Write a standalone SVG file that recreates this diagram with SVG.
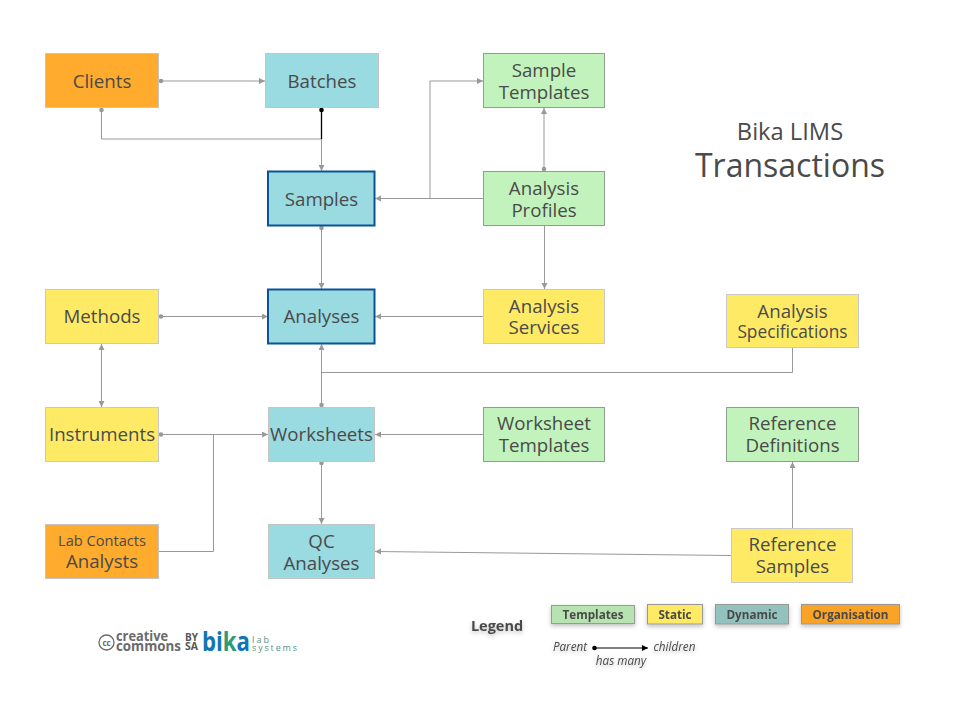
<svg xmlns="http://www.w3.org/2000/svg" width="960" height="720" viewBox="0 0 960 720">
<style>
text{font-family:"Open Sans","Noto Sans","DejaVu Sans",sans-serif;fill:#4a4a4a;text-anchor:middle}
.n{stroke:#c4c4c4;stroke-width:1}
.o{fill:#ffab2e}.b{fill:#9adae1}.g{fill:#c2f3bd;stroke:#8f9f8d}.y{fill:#ffea66;stroke:#c9c9c9}
.k{stroke:#0b5394;stroke-width:2}
.t{font-size:18.7px}
.c path{fill:none;stroke:#999;stroke-width:1}
.lg rect{stroke:#999;stroke-width:1}
.lg text{font-size:11.7px;font-weight:700}
.l{text-anchor:start}
</style>
<defs>
<marker id="a" markerUnits="userSpaceOnUse" markerWidth="8" markerHeight="8" refX="6" refY="3" orient="auto"><path d="M0 0L6 3L0 6Z" fill="#999"/></marker>
<marker id="r" markerUnits="userSpaceOnUse" markerWidth="8" markerHeight="8" refX="6" refY="3" orient="auto-start-reverse"><path d="M0 0L6 3L0 6Z" fill="#999"/></marker>
<marker id="d" markerUnits="userSpaceOnUse" markerWidth="6" markerHeight="6" refX="3" refY="3"><circle cx="3" cy="3" r="2.300" fill="#999"/></marker>
<marker id="dk" markerUnits="userSpaceOnUse" markerWidth="6" markerHeight="6" refX="3" refY="3"><circle cx="3" cy="3" r="2.300" fill="#000"/></marker>
<marker id="ak" markerUnits="userSpaceOnUse" markerWidth="8" markerHeight="8" refX="6" refY="3" orient="auto"><path d="M0 0L6 3L0 6Z" fill="#000"/></marker>
<filter id="s" x="-20%" y="-40%" width="140%" height="200%"><feDropShadow dx="0" dy="2" stdDeviation="2" flood-color="#000" flood-opacity=".25"/></filter>
</defs>
<g id="connectors" class="c">
<path d="M161 81H265" marker-start="url(#d)" marker-end="url(#a)"/>
<path d="M321.500 139H101.500V110" marker-end="url(#d)"/>
<path d="M321.500 139V171" marker-end="url(#a)"/>
<path d="M321.500 110V139" style="stroke:#000;stroke-width:1.300" marker-start="url(#dk)"/>
<path d="M483 198.500H375" marker-end="url(#a)"/>
<path d="M430 198.500V81H483" marker-end="url(#a)"/>
<path d="M544 169V108" marker-start="url(#d)" marker-end="url(#a)"/>
<path d="M544.500 226V289" marker-end="url(#a)"/>
<path d="M321.500 228V289" marker-start="url(#d)" marker-end="url(#a)"/>
<path d="M161 316.500H268" marker-start="url(#d)" marker-end="url(#a)"/>
<path d="M483 316.500H375" marker-end="url(#a)"/>
<path d="M101.500 344V407" marker-start="url(#r)" marker-end="url(#a)"/>
<path d="M321.500 405V344" marker-start="url(#d)" marker-end="url(#a)"/>
<path d="M792.500 348V372.500H321.500"/>
<path d="M161 434.500H268" marker-start="url(#d)" marker-end="url(#a)"/>
<path d="M159 551.500H213.500V434.500"/>
<path d="M483 434.500H375" marker-end="url(#a)"/>
<path d="M321.500 463V524" marker-start="url(#d)" marker-end="url(#a)"/>
<path d="M731 555.500L375 551.500" marker-end="url(#a)"/>
<path d="M792.500 528V462" marker-end="url(#a)"/>
</g>
<g id="clients"><rect class="n o" x="45.500" y="53.500" width="113" height="54"/><text class="t" x="102" y="87.500">Clients</text></g>
<g id="batches"><rect class="n b" x="265.500" y="53.500" width="113" height="54"/><text class="t" x="322" y="87.500">Batches</text></g>
<g id="sample-templates"><rect class="n g" x="483.500" y="53.500" width="121" height="54"/><text class="t" x="544" y="77">Sample</text><text class="t" x="544" y="99">Templates</text></g>
<g id="samples"><rect class="n b k" x="268" y="171.500" width="106.500" height="54"/><text class="t" x="321.500" y="205.500">Samples</text></g>
<g id="analysis-profiles"><rect class="n g" x="483.500" y="171.500" width="121" height="54"/><text class="t" x="544" y="195">Analysis</text><text class="t" x="544" y="217">Profiles</text></g>
<g id="methods"><rect class="n y" x="45.500" y="289.500" width="113" height="54"/><text class="t" x="102" y="323">Methods</text></g>
<g id="analyses"><rect class="n b k" x="268" y="289.500" width="106.500" height="54"/><text class="t" x="321.500" y="323">Analyses</text></g>
<g id="analysis-services"><rect class="n y" x="483.500" y="289.500" width="121" height="54"/><text class="t" x="544" y="313">Analysis</text><text class="t" x="544" y="334">Services</text></g>
<g id="analysis-specifications"><rect class="n y" x="726.500" y="294.500" width="132" height="53"/><text class="t" x="792.500" y="318">Analysis</text><text x="792.500" y="338" font-size="17.300px">Specifications</text></g>
<g id="instruments"><rect class="n y" x="45.500" y="407.500" width="113" height="54"/><text class="t" x="102" y="441">Instruments</text></g>
<g id="worksheets"><rect class="n b" x="268.500" y="407.500" width="106" height="54"/><text class="t" x="321.500" y="441">Worksheets</text></g>
<g id="worksheet-templates"><rect class="n g" x="483.500" y="407.500" width="121" height="54"/><text class="t" x="544" y="430">Worksheet</text><text class="t" x="544" y="452">Templates</text></g>
<g id="reference-definitions"><rect class="n g" x="726.500" y="407.500" width="132" height="54"/><text class="t" x="792.500" y="430">Reference</text><text class="t" x="792.500" y="452">Definitions</text></g>
<g id="analysts"><rect class="n o" x="45.500" y="524.500" width="113" height="54"/><text x="102" y="546" font-size="14.600px">Lab Contacts</text><text class="t" x="102" y="568">Analysts</text></g>
<g id="qc-analyses"><rect class="n b" x="268.500" y="524.500" width="106" height="54"/><text class="t" x="321.500" y="548">QC</text><text class="t" x="321.500" y="570">Analyses</text></g>
<g id="reference-samples"><rect class="n y" x="731.500" y="528.500" width="121" height="54"/><text class="t" x="792.500" y="551">Reference</text><text class="t" x="792.500" y="573">Samples</text></g>
<g id="title"><text x="790" y="140" font-size="23.700px">Bika LIMS</text><text x="790" y="177" font-size="32px">Transactions</text></g>
<g id="legend" class="lg" filter="url(#s)">
<text x="497" y="631" style="font-size:14.500px">Legend</text>
<g id="legend-templates"><rect x="551.500" y="605.500" width="83" height="18" fill="#b6e3af"/><text x="593" y="619">Templates</text></g>
<g id="legend-static"><rect x="647.500" y="604.500" width="55" height="19.500" fill="#ffea66"/><text x="675" y="619">Static</text></g>
<g id="legend-dynamic"><rect x="715.500" y="604.500" width="73" height="19.500" fill="#93c2be"/><text x="752" y="619">Dynamic</text></g>
<g id="legend-organisation"><rect x="801.500" y="604.500" width="98" height="19.500" fill="#fba326"/><text x="850.500" y="619">Organisation</text></g>
<text x="570" y="651" style="font-weight:400;font-style:italic">Parent</text>
<text x="674.500" y="651" style="font-weight:400;font-style:italic">children</text>
<text x="621" y="665" style="font-weight:400;font-style:italic">has many</text>
</g>
<path id="legend-arrow" d="M594.500 648H648" fill="none" stroke="#000" stroke-width="1" marker-start="url(#dk)" marker-end="url(#ak)"/>
<g id="logo">
<circle cx="106.500" cy="642.500" r="7.500" fill="none" stroke="#6a6a6a" stroke-width="1.300"/>
<text x="106.500" y="645.500" style="font-size:8px;fill:#6a6a6a;font-weight:700">cc</text>
<text class="l" x="116" y="641" textLength="52" lengthAdjust="spacingAndGlyphs" style="font-size:14px;fill:#6a6a6a;font-weight:700">creative</text>
<text class="l" x="116" y="651" textLength="65" lengthAdjust="spacingAndGlyphs" style="font-size:14px;fill:#6a6a6a;font-weight:700">commons</text>
<text class="l" x="185" y="641" textLength="13" lengthAdjust="spacingAndGlyphs" style="font-size:10px;fill:#555;font-weight:700">BY</text>
<text class="l" x="185" y="650" textLength="13" lengthAdjust="spacingAndGlyphs" style="font-size:10px;fill:#555;font-weight:700">SA</text>
<text class="l" x="202" y="651" textLength="48" lengthAdjust="spacingAndGlyphs" style="font-size:27px;fill:#1275b5;font-weight:700">bi<tspan fill="#2a9d78" style="fill:#2a9d78">k</tspan>a</text>
<text class="l" x="252" y="643" textLength="17" style="font-size:9px;fill:#5a9088">lab</text>
<text class="l" x="252" y="651" textLength="45" style="font-size:9px;fill:#5a9088">systems</text>
</g>
</svg>
